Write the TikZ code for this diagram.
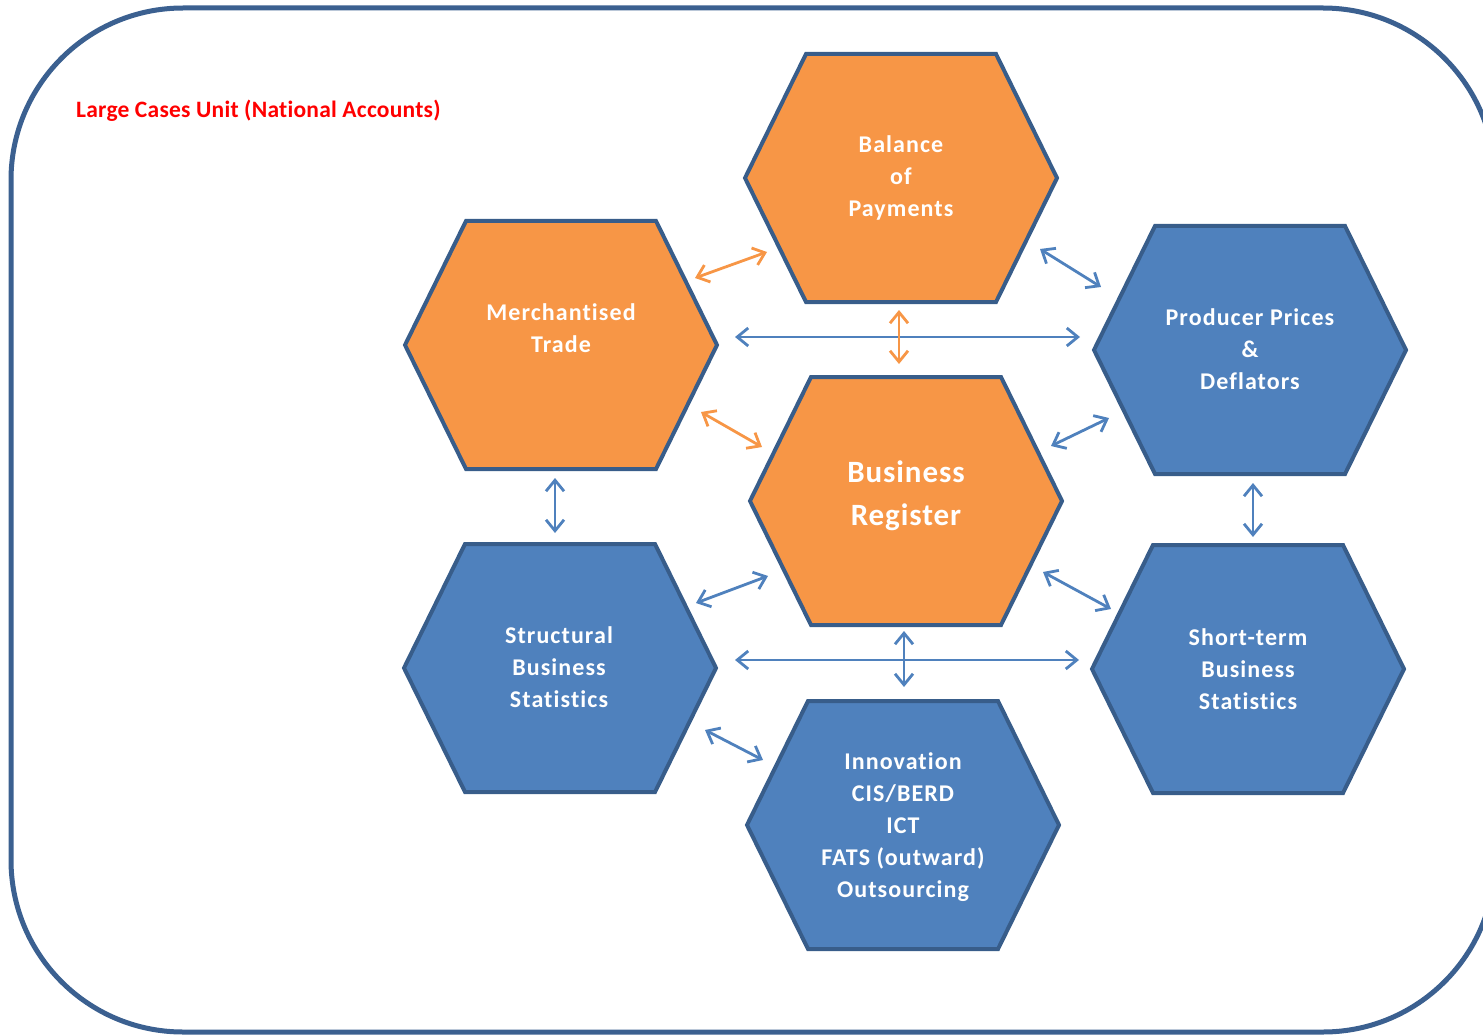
\documentclass[tikz,border=0pt]{standalone}
\usepackage{fontspec}
\setmainfont{Carlito}
\newfontfamily\hexfont[LetterSpace=4.5,RawFeature=-liga]{Carlito}
\newfontfamily\bigfont[LetterSpace=3,RawFeature=-liga]{Carlito}
\newfontfamily\titlefont[LetterSpace=1,RawFeature=-liga]{Carlito}
\usetikzlibrary{arrows.meta}
\definecolor{orangefill}{HTML}{F79646}
\definecolor{bluefill}{HTML}{4F81BD}
\definecolor{hexline}{HTML}{385D8A}
\definecolor{framecol}{HTML}{3B6090}
\definecolor{titlered}{HTML}{FF0000}
\tikzset{
  hexagon/.style={draw=hexline, line width=4pt, line join=miter},
  hexlabel/.style={text=white, font=\hexfont\bfseries\fontsize{24}{32}\selectfont, align=center, inner sep=0pt},
  biglabel/.style={text=white, font=\bigfont\bfseries\fontsize{31}{43}\selectfont, align=center, inner sep=0pt},
  orangelink/.style={draw=orangefill, line width=2.8pt, {Straight Barb[length=11pt,width=18pt]}-{Straight Barb[length=11pt,width=18pt]}},
  bluelink/.style={draw=bluefill, line width=2.8pt, {Straight Barb[length=11pt,width=18pt]}-{Straight Barb[length=11pt,width=18pt]}},
}
\newcommand\hexpath[3]{%
  \draw[hexagon, fill=#3] (#1,#2) ++(-156,0) -- ++(61,-124) -- ++(190,0) -- ++(61,124) -- ++(-61,124) -- ++(-190,0) -- cycle;}
\begin{document}
\begin{tikzpicture}[x=1pt,y=-1pt]
\useasboundingbox (0,0) rectangle (1483,1035);
\clip (0,0) rectangle (1483,1035);
\draw[framecol, line width=5pt, rounded corners=172pt] (11,8) rectangle (1495,1032);
\node[anchor=west, text=titlered, font=\titlefont\bfseries\fontsize{23.5}{26}\selectfont, inner sep=0pt] (title) at (76,111) {Large Cases Unit (National Accounts)};

% hexagons
\hexpath{901}{178}{orangefill}
\hexpath{561}{345}{orangefill}
\hexpath{1250}{350}{bluefill}
\hexpath{906}{501}{orangefill}
\hexpath{560}{668}{bluefill}
\hexpath{1248}{669}{bluefill}
\hexpath{903}{825}{bluefill}

\node[hexlabel] (bop) at (901,178) {Balance\\of\\Payments};
\node[hexlabel] (mt) at (561,328) {Merchantised\\Trade};
\node[hexlabel] (ppd) at (1250,349) {Producer Prices\\\&\\Deflators};
\node[biglabel] (br) at (906,496) {Business\\Register};
\node[hexlabel] (sbs) at (559,667) {Structural\\Business\\Statistics};
\node[hexlabel] (sts) at (1248,669) {Short-term\\Business\\Statistics};
\node[hexlabel] (inn) at (903,827) {Innovation\\CIS/BERD\\ICT\\FATS (outward)\\Outsourcing};

% connector end points
\coordinate (mtbop1) at (695,278); \coordinate (mtbop2) at (767,252);
\coordinate (bopppd1) at (1040,249); \coordinate (bopppd2) at (1101,287);
\coordinate (mtppd1) at (735,337); \coordinate (mtppd2) at (1080,337);
\coordinate (bopbr1) at (899,310); \coordinate (bopbr2) at (899,364);
\coordinate (mtbr1) at (701,412); \coordinate (mtbr2) at (762,447);
\coordinate (brppd1) at (1051,446); \coordinate (brppd2) at (1109,418);
\coordinate (mtsbs1) at (555,478); \coordinate (mtsbs2) at (555,533);
\coordinate (ppdsts1) at (1253,483); \coordinate (ppdsts2) at (1253,537);
\coordinate (sbsbr1) at (696,603); \coordinate (sbsbr2) at (768,576);
\coordinate (brsts1) at (1043,572); \coordinate (brsts2) at (1111,609);
\coordinate (sbssts1) at (735,660); \coordinate (sbssts2) at (1079,660);
\coordinate (brinn1) at (904,631); \coordinate (brinn2) at (904,687);
\coordinate (sbsinn1) at (705,730); \coordinate (sbsinn2) at (763,760);

\draw[orangelink] (mtbop1) -- (mtbop2);
\draw[bluelink] (bopppd1) -- (bopppd2);
\draw[bluelink] (mtppd1) -- (mtppd2);
\draw[orangelink] (bopbr1) -- (bopbr2);
\draw[orangelink] (mtbr1) -- (mtbr2);
\draw[bluelink] (brppd1) -- (brppd2);
\draw[bluelink] (mtsbs1) -- (mtsbs2);
\draw[bluelink] (ppdsts1) -- (ppdsts2);
\draw[bluelink] (sbsbr1) -- (sbsbr2);
\draw[bluelink] (brsts1) -- (brsts2);
\draw[bluelink] (sbssts1) -- (sbssts2);
\draw[bluelink] (brinn1) -- (brinn2);
\draw[bluelink] (sbsinn1) -- (sbsinn2);
\end{tikzpicture}
\end{document}
